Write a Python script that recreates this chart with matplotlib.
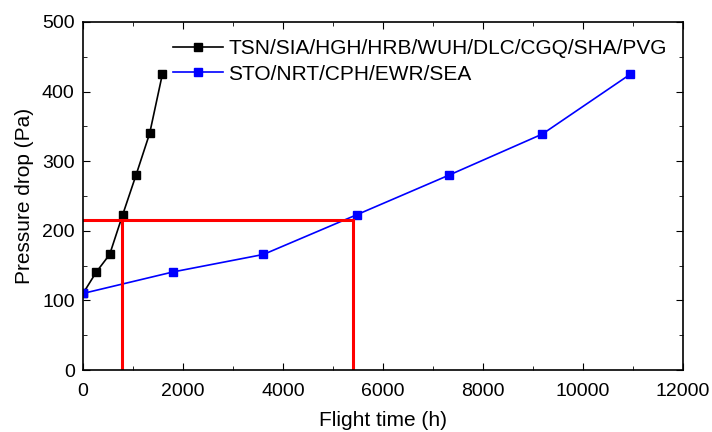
import matplotlib
matplotlib.use('Agg')
from matplotlib import pyplot as plt
from matplotlib.ticker import MultipleLocator

plt.rcParams['font.family'] = ['Liberation Sans', 'DejaVu Sans']

# domestic routes
t_dom = [0, 268, 533, 793, 1060, 1333, 1587]
p_dom = [110, 141, 166, 223, 280, 340, 425]
# international routes
t_int = [0, 1807, 3607, 5473, 7320, 9187, 10947]
p_int = [110, 141, 166, 223, 280, 339, 425]

# red guide lines
p_ref = 216
t_ref = [780, 5400]

fig = plt.figure(figsize=(7.12, 4.32), dpi=100)
ax = fig.add_axes([0.1166, 0.1435, 0.8427, 0.8056])

ax.plot(t_dom, p_dom, color='black', marker='s', markersize=6, lw=1.2,
        label='TSN/SIA/HGH/HRB/WUH/DLC/CGQ/SHA/PVG')
ax.plot(t_int, p_int, color='blue', marker='s', markersize=6, lw=1.2,
        label='STO/NRT/CPH/EWR/SEA')

ax.plot([0, t_ref[1]], [p_ref, p_ref], color='red', lw=2.2)
for t in t_ref:
    ax.plot([t, t], [0, p_ref], color='red', lw=2.2)

ax.set_xlim(0, 12000)
ax.set_ylim(0, 500)
ax.xaxis.set_major_locator(MultipleLocator(2000))
ax.xaxis.set_minor_locator(MultipleLocator(1000))
ax.yaxis.set_major_locator(MultipleLocator(100))
ax.yaxis.set_minor_locator(MultipleLocator(50))
ax.tick_params(which='both', direction='in', top=True, right=True, labelsize=14, pad=6)
ax.tick_params(axis='x', which='both', pad=9)
ax.tick_params(which='major', length=5)
ax.tick_params(which='minor', length=3)
for s in ax.spines.values():
    s.set_linewidth(1.2)

ax.set_xlabel('Flight time (h)', fontsize=15, labelpad=8)
ax.set_ylabel('Pressure drop (Pa)', fontsize=15, labelpad=6)
ax.legend(loc='upper left', bbox_to_anchor=(0.133, 0.98), frameon=False, fontsize=15,
          borderpad=0, handlelength=2.4, handletextpad=0.25, labelspacing=0.3)

fig.savefig('out.png', dpi=100)
